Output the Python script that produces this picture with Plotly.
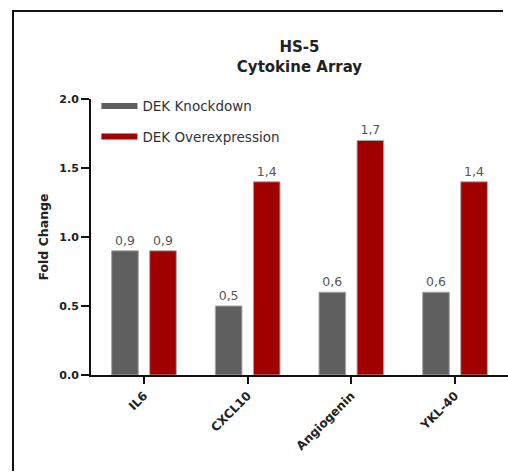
import plotly.graph_objects as go

# Cytokine array results for HS-5 cells
cytokines = ["IL6", "CXCL10", "Angiogenin", "YKL-40"]
knockdown = [0.9, 0.5, 0.6, 0.6]
overexpression = [0.9, 1.4, 1.7, 1.4]
y_ticks = [0.0, 0.5, 1.0, 1.5, 2.0]

series_names = ["DEK Knockdown", "DEK Overexpression"]
series_colors = ["#5f5f5f", "#a00000"]

FONT = "DejaVu Sans"


def comma_label(v):
    return f"{v:.1f}".replace(".", ",")


fig = go.Figure()
for name, vals, color in zip(series_names, [knockdown, overexpression], series_colors):
    fig.add_trace(go.Bar(
        x=cytokines, y=vals, name=name,
        marker=dict(color=color, line=dict(color="#a8a8a8", width=1)),
        text=[comma_label(v) for v in vals],
        textposition="outside",
        textfont=dict(family=FONT, size=12.5, color="#555555"),
        cliponaxis=False,
        showlegend=False,
    ))
    # legend entry drawn as a short thick bar
    fig.add_trace(go.Scatter(
        x=[None], y=[None], mode="lines", name=name,
        line=dict(color=color, width=6),
        legendgroup=name,
    ))

fig.update_layout(
    width=508, height=474,
    margin=dict(l=91, r=0, t=99, b=99),
    paper_bgcolor="white", plot_bgcolor="white",
    barmode="group", bargap=0.266, bargroupgap=0.3,
    title=dict(
        text="HS-5<br>Cytokine Array",
        font=dict(family=FONT, size=15, color="#222222", weight="bold"),
        x=0.5, xref="paper", xanchor="center",
        y=1 - 52 / 474, yref="container", yanchor="middle",
    ),
    legend=dict(
        x=0.013, y=1.03, xanchor="left", yanchor="top",
        font=dict(family=FONT, size=13.5, color="#333333"),
        tracegroupgap=10, itemwidth=36,
        bgcolor="rgba(0,0,0,0)",
    ),
    xaxis=dict(
        range=[-0.511, 3.511],
        showline=True, linecolor="#111111", linewidth=2,
        ticks="outside", ticklen=7, tickwidth=2, tickcolor="#111111",
        tickangle=-45,
        tickfont=dict(family=FONT, size=12, color="#222222", weight="bold"),
        showgrid=False, zeroline=False,
    ),
    yaxis=dict(
        range=[0, 2.0],
        tickvals=y_ticks, tickformat=".1f",
        showline=True, linecolor="#111111", linewidth=2,
        ticks="outside", ticklen=8, tickwidth=2, tickcolor="#111111",
        tickfont=dict(family=FONT, size=11, color="#222222", weight="bold"),
        showgrid=False, zeroline=False,
        title=dict(text="Fold Change", standoff=8,
                   font=dict(family=FONT, size=12.5, color="#222222", weight="bold")),
    ),
)

# outer frame of the panel: one open polyline up the left edge and along the top
plot_w, plot_h = 508 - 91, 474 - 99 - 99
fx_left = (13 - 91) / plot_w
fx_right = (503 - 91) / plot_w
fy_top = 1 + (99 - 11) / plot_h
fy_bottom = -(99 - 3) / plot_h
fig.add_shape(
    type="path", xref="paper", yref="paper", layer="below",
    path=f"M {fx_left},{fy_bottom} L {fx_left},{fy_top} L {fx_right},{fy_top}",
    line=dict(color="#111111", width=2),
    fillcolor="rgba(0,0,0,0)",
)

fig.write_html("out.html")
